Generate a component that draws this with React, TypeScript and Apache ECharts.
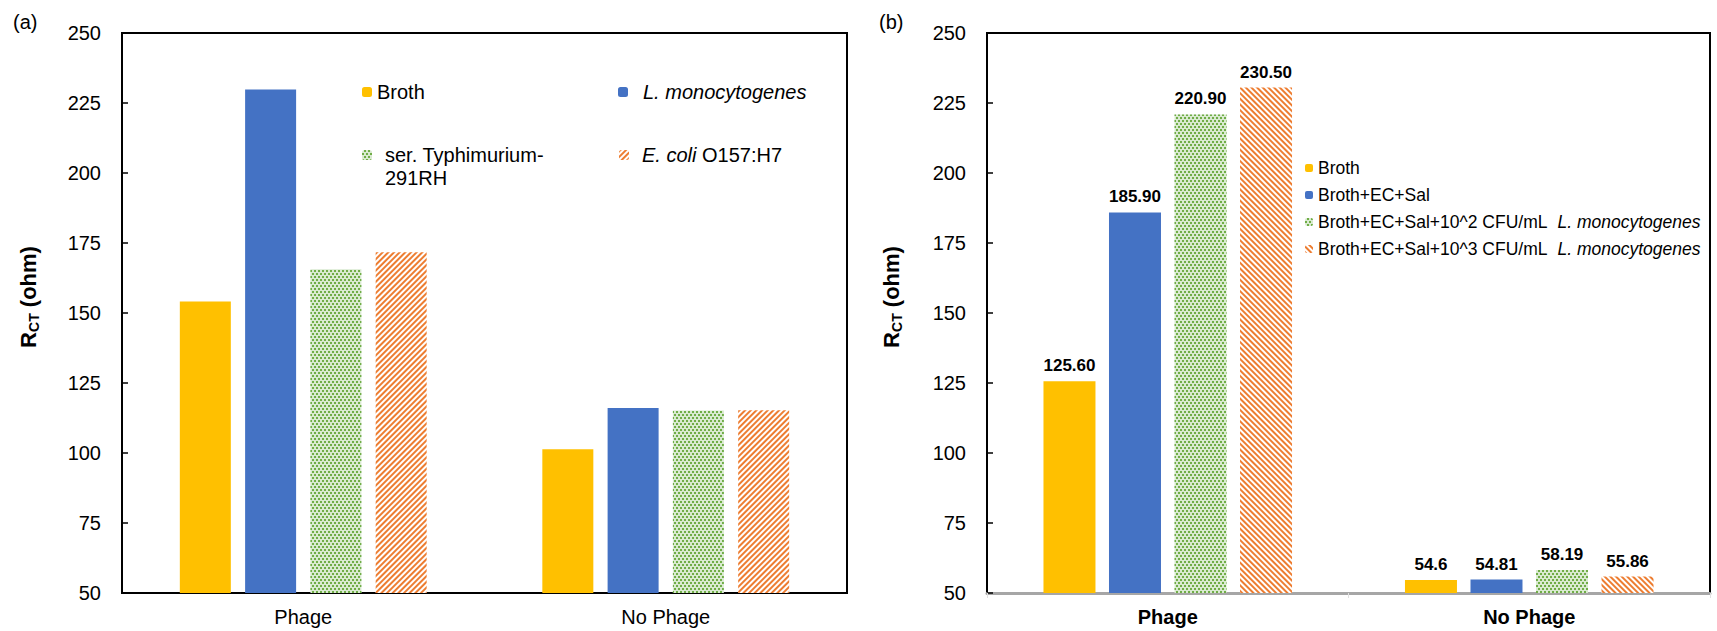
import React, { useEffect, useRef } from "react";
import * as echarts from "echarts";

const categories = ["Phage", "No Phage"];
const yTicks = { min: 50, max: 250, interval: 25 };

const leftNames = ["Broth", "L. monocytogenes", "ser. Typhimurium-291RH", "E. coli O157:H7"];
const leftBroth = [154.1, 101.3];
const leftLmono = [229.8, 116.1];
const leftTyph = [165.6, 115.2];
const leftEcoli = [171.7, 115.3];

const rightNames = [
  "Broth",
  "Broth+EC+Sal",
  "Broth+EC+Sal+10^2 CFU/mL L. monocytogenes",
  "Broth+EC+Sal+10^3 CFU/mL L. monocytogenes",
];
const rightBroth = [125.6, 54.6];
const rightECSal = [185.9, 54.81];
const right102 = [220.9, 58.19];
const right103 = [230.5, 55.86];
const rightLabels = [
  ["125.60", "54.6"],
  ["185.90", "54.81"],
  ["220.90", "58.19"],
  ["230.50", "55.86"],
];

const FONT = "'Liberation Sans', Arial, Helvetica, sans-serif";

function styleFor(i: number, rot: number) {
  if (i === 0) return { color: "#FFC000" };
  if (i === 1) return { color: "#4472C4" };
  if (i === 2)
    return {
      color: "#d9ead0",
      decal: {
        symbol: "rect",
        symbolSize: 1,
        color: "#70AD47",
        dashArrayX: [
          [2, 2],
          [0, 2, 2, 0],
        ],
        dashArrayY: [2, 1],
      },
    };
  return {
    color: "#ffffff",
    decal: {
      symbol: "rect",
      symbolSize: 1,
      color: "#ED7D31",
      dashArrayX: [1, 0],
      dashArrayY: [2, 2],
      rotation: rot,
    },
  };
}

export default function App() {
  const ref = useRef<HTMLDivElement>(null);
  useEffect(() => {
    document.body.style.margin = "0";
    const chart = echarts.init(ref.current!, null, { renderer: "svg" });
    const leftData = [leftBroth, leftLmono, leftTyph, leftEcoli];
    const rightData = [rightBroth, rightECSal, right102, right103];

    const yAxisBase = (gridIndex: number, gap: number) => ({
      type: "value",
      gridIndex,
      min: yTicks.min,
      max: yTicks.max,
      interval: yTicks.interval,
      splitLine: { show: false },
      axisLine: { show: true, lineStyle: { color: "#000", width: 2 } },
      axisTick: { show: true, inside: true, length: 6, lineStyle: { color: "#000", width: 1.5 } },
      axisLabel: { fontSize: 20, color: "#000", fontFamily: FONT, margin: 21 },
      name: "{r|R}{s|CT}{r| (ohm)}",
      nameLocation: "middle",
      nameRotate: 90,
      nameGap: gap,
      nameTextStyle: {
        fontFamily: FONT,
        padding: [0, 0, 0, 32],
        rich: {
          r: { fontSize: 22, fontWeight: "bold", color: "#000", fontFamily: FONT, lineHeight: 26 },
          s: {
            fontSize: 14,
            fontWeight: "bold",
            color: "#000",
            fontFamily: FONT,
            lineHeight: 14,
            verticalAlign: "bottom",
          },
        },
      },
    });

    const series: any[] = [];
    leftData.forEach((d, i) => {
      series.push({
        type: "bar",
        name: leftNames[i],
        xAxisIndex: 0,
        yAxisIndex: 0,
        data: d,
        barWidth: 51,
        barGap: "28%",
        itemStyle: styleFor(i, -Math.PI / 4),
      });
    });
    rightData.forEach((d, i) => {
      series.push({
        type: "bar",
        name: rightNames[i],
        xAxisIndex: 1,
        yAxisIndex: 1,
        data: d,
        barWidth: 52,
        barGap: "26%",
        itemStyle: styleFor(i, Math.PI / 4),
        label: {
          show: true,
          position: "top",
          distance: 7,
          fontSize: 17,
          fontWeight: "bold",
          color: "#000",
          fontFamily: FONT,
          formatter: (p: any) => rightLabels[i][p.dataIndex],
        },
      });
    });

    const leftLegend = (name: string, left: number, top: number, text: any, padding: number[]) => ({
      data: [name],
      left,
      top,
      padding: 0,
      itemWidth: 10,
      itemHeight: 10,
      selectedMode: false,
      formatter: () => text,
      textStyle: {
        fontSize: 20,
        lineHeight: 23,
        color: "#000",
        fontFamily: FONT,
        padding,
        rich: {
          n: { fontSize: 20, lineHeight: 23, color: "#000", fontFamily: FONT },
          i: { fontSize: 20, lineHeight: 23, color: "#000", fontFamily: FONT, fontStyle: "italic" },
        },
      },
    });

    const option: any = {
      animation: false,
      backgroundColor: "#fff",
      textStyle: { fontFamily: FONT },
      grid: [
        { left: 122, right: 870, top: 33, bottom: 38, show: true, borderColor: "#000", borderWidth: 2 },
        { left: 987, right: 7, top: 33, bottom: 38, show: true, borderColor: "#000", borderWidth: 2 },
      ],
      xAxis: [
        {
          type: "category",
          gridIndex: 0,
          data: categories,
          axisLine: { lineStyle: { color: "#000", width: 2 } },
          axisTick: { show: false },
          axisLabel: { fontSize: 20, color: "#000", fontFamily: FONT, margin: 14 },
        },
        {
          type: "category",
          gridIndex: 1,
          data: categories,
          axisLine: { lineStyle: { color: "#a6a6a6", width: 3 } },
          axisTick: { show: true, length: 5, lineStyle: { color: "#e0e0e0" } },
          axisLabel: { fontSize: 20, fontWeight: "bold", color: "#000", fontFamily: FONT, margin: 14 },
        },
      ],
      yAxis: [yAxisBase(0, 81), yAxisBase(1, 83)],
      legend: [
        leftLegend("Broth", 362, 80.5, "Broth", [0, 0, 0, 0]),
        leftLegend("L. monocytogenes", 618, 80.5, "{i|L. monocytogenes}", [0, 0, 0, 10]),
        leftLegend("ser. Typhimurium-291RH", 362, 120.5, "ser. Typhimurium-\n291RH", [23, 0, 0, 8]),
        leftLegend("E. coli O157:H7", 619, 143.5, "{i|E. coli} {n|O157:H7}", [0, 0, 0, 8]),
        {
          data: rightNames,
          orient: "vertical",
          left: 1305,
          top: 158,
          padding: 0,
          itemGap: 7,
          itemWidth: 8,
          itemHeight: 8,
          selectedMode: false,
          formatter: (name: string) => {
            const k = name.indexOf(" L. ");
            if (k < 0) return name;
            return "{n|" + name.slice(0, k) + "}{i|" + name.slice(k + 1) + "}";
          },
          textStyle: {
            fontSize: 17.5,
            lineHeight: 20,
            color: "#000",
            fontFamily: FONT,
            rich: {
              n: { fontSize: 17.5, lineHeight: 20, color: "#000", fontFamily: FONT },
              i: {
                fontSize: 17.5,
                lineHeight: 20,
                color: "#000",
                fontFamily: FONT,
                fontStyle: "italic",
                padding: [0, 0, 0, 10],
              },
            },
          },
        },
      ],
      graphic: [
        { type: "text", left: 13, top: 12, style: { text: "(a)", fontSize: 20, fill: "#000", fontFamily: FONT } },
        { type: "text", left: 879, top: 12, style: { text: "(b)", fontSize: 20, fill: "#000", fontFamily: FONT } },
      ],
      series,
    };
    chart.setOption(option);
    return () => chart.dispose();
  }, []);
  return <div ref={ref} style={{ width: 1717, height: 631 }} />;
}
